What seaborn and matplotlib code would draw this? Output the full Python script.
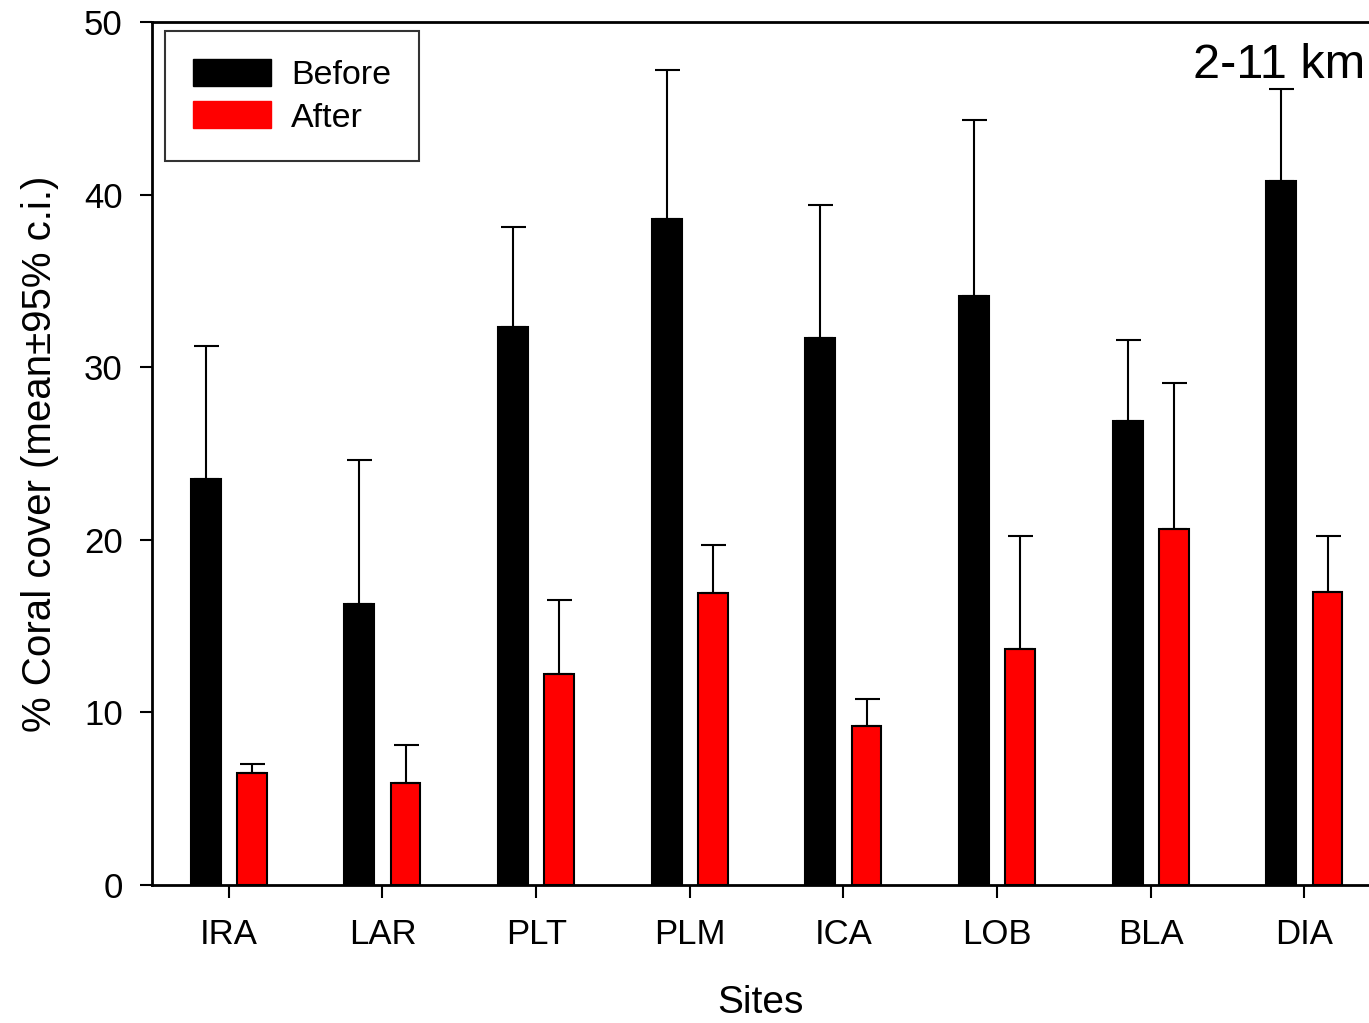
import numpy as np
import pandas as pd
import seaborn as sns
import matplotlib.pyplot as plt
from matplotlib.patches import Patch

sites = ["IRA", "LAR", "PLT", "PLM", "ICA", "LOB", "BLA", "DIA"]
before = [23.5, 16.3, 32.3, 38.6, 31.7, 34.1, 26.9, 40.8]
before_ci = [7.7, 8.3, 5.8, 8.6, 7.7, 10.2, 4.7, 5.3]
after = [6.5, 5.9, 12.2, 16.9, 9.2, 13.7, 20.6, 17.0]
after_ci = [0.5, 2.2, 4.3, 2.8, 1.6, 6.5, 8.5, 3.2]

data = pd.DataFrame({
    "site": sites * 2,
    "cover": before + after,
    "period": ["Before"] * len(sites) + ["After"] * len(sites),
})

sns.set_style("ticks")
plt.rcParams['font.family'] = ['Liberation Sans', 'DejaVu Sans']
plt.rcParams['text.color'] = 'black'
plt.rcParams['axes.labelcolor'] = 'black'
plt.rcParams['xtick.color'] = 'black'
plt.rcParams['ytick.color'] = 'black'

fig = plt.figure(figsize=(13.69, 10.23), dpi=100)
ax = fig.add_axes([0.111, 0.1349, 0.889, 0.8436])

sns.barplot(data=data, x="site", y="cover", hue="period",
            palette={"Before": "black", "After": "red"}, saturation=1,
            width=0.6, gap=0.35, edgecolor="black", linewidth=1.5,
            errorbar=None, legend=False, ax=ax)

# upper half of 95% c.i. only, like the original
for cont, ci in zip(ax.containers, [before_ci, after_ci]):
    xs = [b.get_x() + b.get_width() / 2 for b in cont]
    ys = [b.get_height() for b in cont]
    ax.errorbar(xs, ys, yerr=[np.zeros(len(ci)), ci], fmt="none",
                ecolor="black", elinewidth=1.5, capsize=9, capthick=1.5)

ax.set_xlim(-0.5, 7.42)
ax.set_ylim(0, 50)
ax.set_yticks([0, 10, 20, 30, 40, 50])
ax.set_xlabel("Sites", fontsize=28, labelpad=24)
ax.set_ylabel("% Coral cover (mean\u00b195% c.i.)", fontsize=29, labelpad=18)
ax.tick_params(axis="both", labelsize=25, direction="out", length=9, width=1.5, color="black")
ax.tick_params(axis="x", pad=15)
ax.tick_params(axis="y", pad=12)

for pos in ["left", "bottom", "top"]:
    ax.spines[pos].set_linewidth(2)
    ax.spines[pos].set_color("black")
ax.spines["right"].set_visible(False)

ax.text(0.997, 0.95, "2-11 km", transform=ax.transAxes, ha="right", va="center", fontsize=35)

handles = [Patch(facecolor="black", edgecolor="black"), Patch(facecolor="red", edgecolor="red")]
leg = ax.legend(handles, ["Before", "After"], loc="upper left", bbox_to_anchor=(0.011, 0.989),
                fontsize=24.5, frameon=True, fancybox=False, edgecolor="black",
                handlelength=2.3, handleheight=0.85, borderpad=0.8, labelspacing=0.3,
                handletextpad=0.6, borderaxespad=0)
leg.get_frame().set_linewidth(1.5)

plt.savefig("out.png", dpi=100)
